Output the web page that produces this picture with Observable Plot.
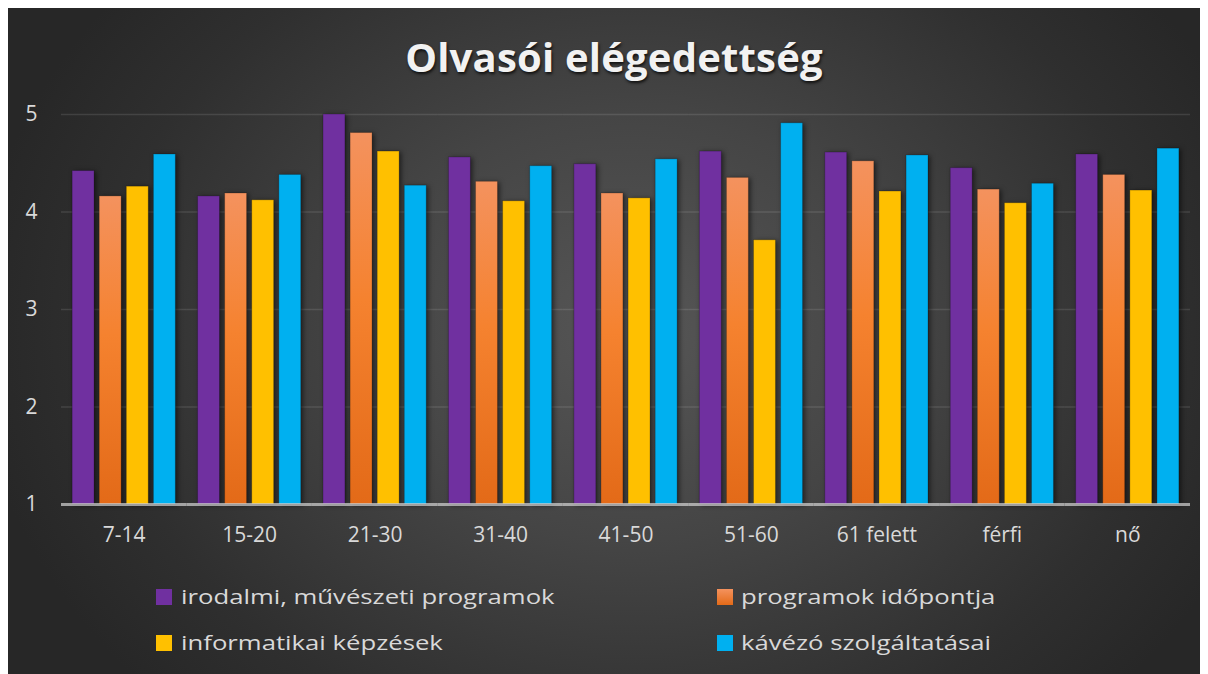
<!DOCTYPE html>
<html>
<head>
<meta charset="utf-8">
<script src="https://cdn.jsdelivr.net/npm/d3@7"></script>
<script src="https://cdn.jsdelivr.net/npm/@observablehq/plot@0.6"></script>
<style>
  body { margin: 8px; background: #ffffff; }
  #panel {
    position: relative; width: 1200px; height: 666px; overflow: hidden;
    background: radial-gradient(ellipse 55% 80% at 52% 48%, #565656 0%, #454545 40%, #2f2f2f 80%, #272727 100%);
    font-family: "Open Sans", sans-serif;
  }
  #title {
    position: absolute; left: 6px; top: 29px; width: 1200px; text-align: center;
    font: bold 40px/40px "Open Sans", sans-serif; letter-spacing: 0.2px;
    color: #f2f2f2; text-shadow: 1px 2px 3px rgba(0,0,0,0.75);
  }
  #chart { position: absolute; left: 0; top: 92px; }
  #chart g[aria-label="bar"] { filter: drop-shadow(2px 1px 2.5px rgba(0,0,0,0.55)); }
  .lg-sw { position: absolute; width: 16px; height: 16px; }
  .lg-tx { position: absolute; font: 20px/20px "Open Sans", sans-serif; color: #d9d9d9; white-space: nowrap;
           transform: scaleX(1.285); transform-origin: 0 0; }
</style>
</head>
<body>
<div id="panel">
  <div id="title">Olvasói elégedettség</div>
  <div id="chart"></div>
  <div id="legend"></div>
</div>
<script>
const categories = ["7-14", "15-20", "21-30", "31-40", "41-50", "51-60", "61 felett", "férfi", "nő"];
const series = ["irodalmi, művészeti programok", "programok időpontja", "informatikai képzések", "kávézó szolgáltatásai"];
const irodalmi = [4.42, 4.16, 5.00, 4.56, 4.49, 4.62, 4.61, 4.45, 4.59];
const idopont = [4.16, 4.19, 4.81, 4.31, 4.19, 4.35, 4.52, 4.23, 4.38];
const informatikai = [4.26, 4.12, 4.62, 4.11, 4.14, 3.71, 4.21, 4.09, 4.22];
const kavezo = [4.59, 4.38, 4.27, 4.47, 4.54, 4.91, 4.58, 4.29, 4.65];
const yTicks = [1, 2, 3, 4, 5];
const colors = ["#7030a0", "url(#orangeGrad)", "#ffc000", "#00b0f0"];

const valueLists = [irodalmi, idopont, informatikai, kavezo];
const data = [];
categories.forEach((c, i) => {
  series.forEach((s, j) => data.push({category: c, series: s, value: valueLists[j][i]}));
});

const chart = Plot.plot({
  width: 1200,
  height: 454,
  marginLeft: 53,
  marginRight: 18,
  marginTop: 14,
  marginBottom: 50,
  style: {fontFamily: "'Open Sans', sans-serif", fontSize: "21px", color: "#d9d9d9", background: "transparent", overflow: "visible"},
  fx: {domain: categories, padding: 0, round: false, axis: "bottom", label: null, tickSize: 0, tickPadding: 23},
  x: {domain: series, paddingInner: 0.19, paddingOuter: 0.41, round: false, axis: null},
  y: {domain: [1, 5], ticks: yTicks, tickSize: 0, tickPadding: 24, label: null, grid: false, tickFormat: d3.format("d")},
  color: {domain: series, range: colors},
  marks: [
    Plot.gridY(yTicks.slice(1), {stroke: "#ffffff", strokeOpacity: 0.11, strokeWidth: 1.5}),
    Plot.barY(data, {fx: "category", x: "series", y1: 1, y2: "value", fill: "series", stroke: "#000000", strokeOpacity: 0.22, strokeWidth: 1}),
    Plot.ruleY([1], {stroke: "#d4d4d4", strokeOpacity: 0.7, strokeWidth: 3})
  ]
});

// orange gradient definition
const ns = "http://www.w3.org/2000/svg";
const defs = document.createElementNS(ns, "defs");
const grad = document.createElementNS(ns, "linearGradient");
grad.setAttribute("id", "orangeGrad");
grad.setAttribute("x1", "0"); grad.setAttribute("y1", "0");
grad.setAttribute("x2", "0"); grad.setAttribute("y2", "1");
[["0", "#f4925e"], ["0.45", "#f5822f"], ["1", "#e36a18"]].forEach(([o, c]) => {
  const st = document.createElementNS(ns, "stop");
  st.setAttribute("offset", o); st.setAttribute("stop-color", c);
  grad.appendChild(st);
});
defs.appendChild(grad);
chart.insertBefore(defs, chart.firstChild);
document.getElementById("chart").appendChild(chart);

// legend
const legend = document.getElementById("legend");
const legendPos = [[148, 173, 581], [709, 733, 581], [148, 173, 627], [709, 733, 627]];
const swatchCss = ["#7030a0", "linear-gradient(#f4925e, #e36a18)", "#ffc000", "#00b0f0"];
series.forEach((s, i) => {
  const [sx, tx, ty] = legendPos[i];
  const sw = document.createElement("div");
  sw.className = "lg-sw";
  sw.style.left = sx + "px"; sw.style.top = ty + "px";
  sw.style.background = swatchCss[i];
  legend.appendChild(sw);
  const t = document.createElement("div");
  t.className = "lg-tx";
  t.style.left = tx + "px"; t.style.top = (ty - 2) + "px";
  t.textContent = s;
  legend.appendChild(t);
});
</script>
</body>
</html>
